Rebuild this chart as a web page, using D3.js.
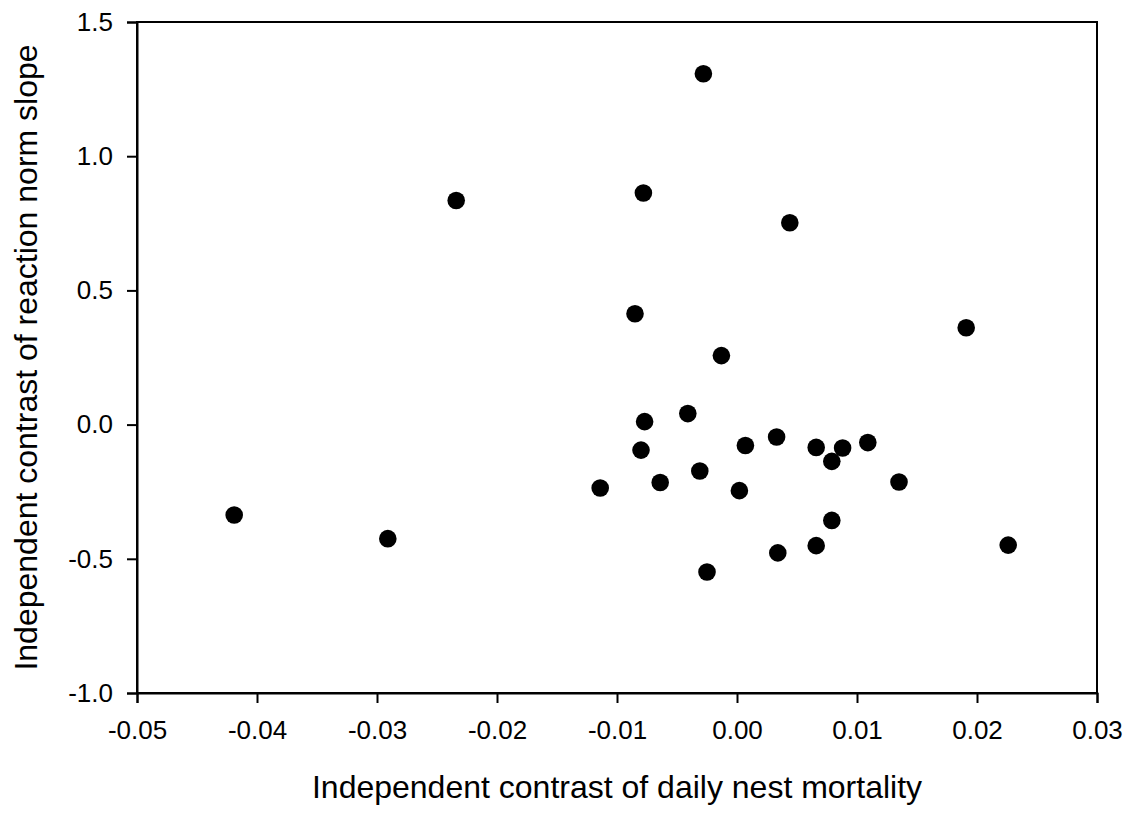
<!DOCTYPE html>
<html>
<head>
<meta charset="utf-8">
<script src="https://cdn.jsdelivr.net/npm/d3@7"></script>
<style>
	html, body { margin: 0; padding: 0; background: #fff; }
	svg text { font-family: "Liberation Sans", Arial, sans-serif; fill: #000; }
</style>
</head>
<body>
<svg id="scatter-chart" width="1128" height="813"></svg>
<script>
// independent contrasts
const mortality = [
	-0.0419, -0.0291, -0.0234, -0.0114, -0.0085, -0.0078, -0.0077, -0.0080,
	-0.0064, -0.0041, -0.0031, -0.0028, -0.0025, -0.0013, 0.0002, 0.0007,
	0.0033, 0.0034, 0.0044, 0.0066, 0.0066, 0.0079, 0.0079, 0.0088,
	0.0109, 0.0135, 0.0191, 0.0226,
];
const slope = [
	-0.337, -0.425, 0.835, -0.236, 0.413, 0.863, 0.011, -0.095,
	-0.216, 0.041, -0.173, 1.307, -0.549, 0.257, -0.246, -0.078,
	-0.046, -0.478, 0.752, -0.085, -0.451, -0.137, -0.357, -0.087,
	-0.067, -0.214, 0.361, -0.449,
];
const xTicks = [-0.05, -0.04, -0.03, -0.02, -0.01, 0.0, 0.01, 0.02, 0.03];
const yTicks = [-1.0, -0.5, 0.0, 0.5, 1.0, 1.5];
const xLabel = 'Independent contrast of daily nest mortality';
const yLabel = 'Independent contrast of reaction norm slope';

const margin = { top: 22, right: 31, bottom: 120, left: 137 };
const svg = d3.select('#scatter-chart');
const w = +svg.attr('width') - margin.left - margin.right;
const h = +svg.attr('height') - margin.top - margin.bottom;

const x = d3.scaleLinear().domain([-0.05, 0.03]).range([0, w]);
const y = d3.scaleLinear().domain([-1.0, 1.5]).range([h, 0]);

const g = svg.append('g').attr('transform', `translate(${margin.left},${margin.top})`);

// box around the plot area (top and right have no ticks)
g.append('rect')
	.attr('width', w)
	.attr('height', h)
	.attr('fill', 'none')
	.attr('stroke', '#000')
	.attr('stroke-width', 2);

const xAxis = g.append('g')
	.attr('transform', `translate(0,${h})`)
	.call(d3.axisBottom(x).tickValues(xTicks).tickSize(10).tickPadding(18).tickFormat(d3.format('.2f')));

const yAxis = g.append('g')
	.call(d3.axisLeft(y).tickValues(yTicks).tickSize(10).tickPadding(14).tickFormat(d3.format('.1f')));

[xAxis, yAxis].forEach((ax) => {
	ax.select('.domain').attr('stroke-width', 2);
	ax.selectAll('.tick line').attr('stroke-width', 2);
	ax.selectAll('.tick text').style('font-size', '26px').attr('fill', '#000');
	ax.attr('font-family', null);
});
// minus sign in the figure is a plain hyphen
xAxis.selectAll('.tick text').text((d) => d3.format('.2f')(d).replace('−', '-'));
yAxis.selectAll('.tick text').text((d) => d3.format('.1f')(d).replace('−', '-'));

const points = mortality.map((m, i) => ({ m, s: slope[i] }));

g.selectAll('.dot')
	.data(points)
	.join('circle')
	.attr('class', 'dot')
	.attr('cx', (d) => x(d.m))
	.attr('cy', (d) => y(d.s))
	.attr('r', 8.8)
	.attr('fill', '#000');

svg.append('text')
	.attr('x', margin.left + w / 2)
	.attr('y', 798)
	.attr('text-anchor', 'middle')
	.style('font-size', '32px')
	.text(xLabel);

svg.append('text')
	.attr('transform', `translate(37,${margin.top + h / 2}) rotate(-90)`)
	.attr('text-anchor', 'middle')
	.style('font-size', '32px')
	.text(yLabel);
</script>
</body>
</html>
